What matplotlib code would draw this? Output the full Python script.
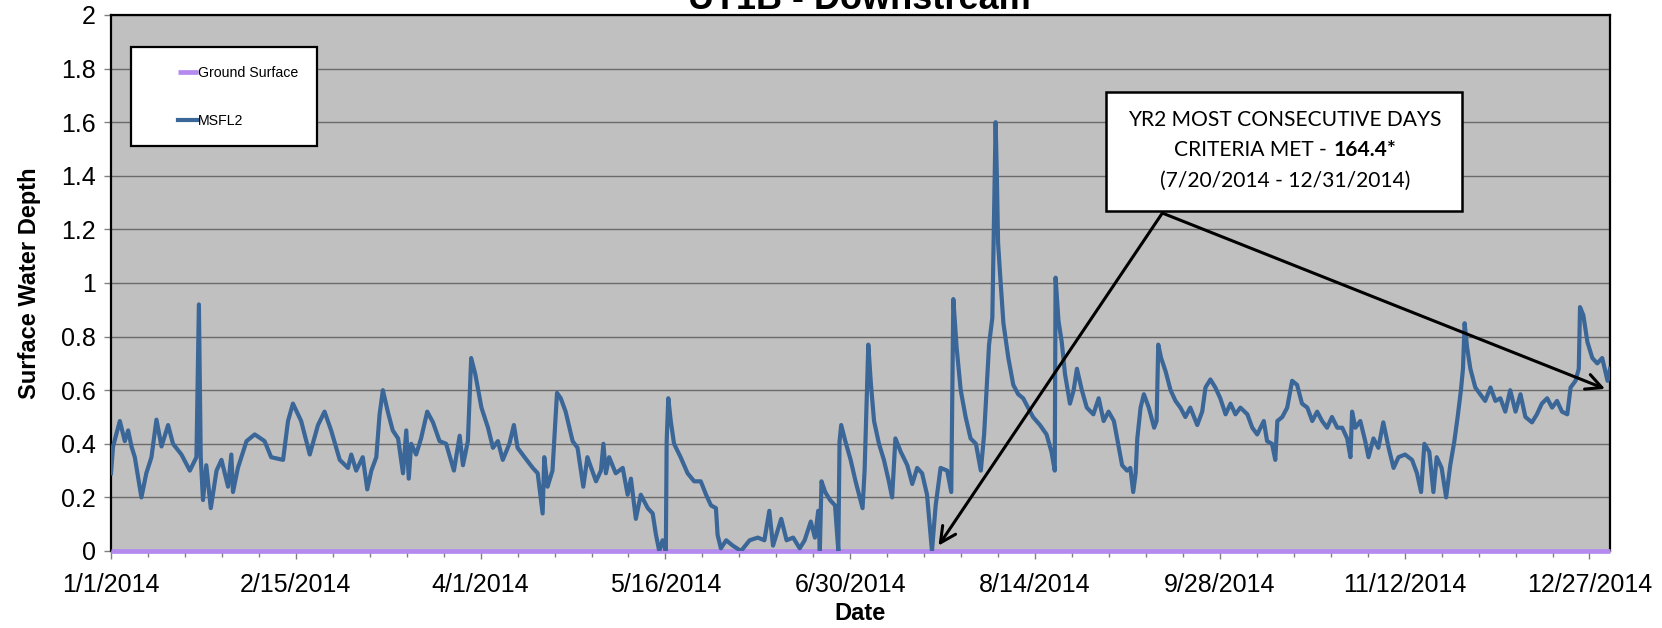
import numpy as np
import matplotlib
matplotlib.use("Agg")
import matplotlib.pyplot as plt
import matplotlib.dates as mdates
from matplotlib.patches import Rectangle
from matplotlib.legend_handler import HandlerLine2D
from matplotlib.offsetbox import TextArea, HPacker, VPacker, AnnotationBbox

plt.rcParams['font.family'] = 'Liberation Sans'

# MSFL2 surface water depth, day of year 2014 vs depth
msfl2_day = [
    0.0, 0.5, 2.15, 3.36, 4.18, 4.99, 5.8, 7.4, 8.6, 9.85, 11.07, 12.3, 13.9, 15.1,
    17.15, 19.2, 20.8, 21.4, 21.85, 22.4, 23.2, 24.3, 25.7, 26.9, 28.5, 29.3, 29.7,
    30.9, 33.0, 35.0, 37.4, 39.0, 41.9, 43.1, 44.3, 46.3, 48.4, 50.4, 52.0, 53.6,
    55.7, 57.7, 58.5, 59.7, 61.3, 62.4, 63.4, 64.6, 65.4, 66.2, 67.4, 68.6, 69.9,
    71.1, 71.9, 72.5, 73.1, 74.3, 75.5, 77.0, 78.4, 80.0, 81.6, 83.5, 84.9, 85.7,
    86.9, 87.7, 88.7, 90.2, 91.8, 93.0, 94.2, 95.4, 97.0, 98.1, 99.0, 100.7, 102.7,
    103.9, 105.1, 105.5, 106.3, 107.5, 108.6, 109.5, 110.7, 112.4, 113.6, 115.0,
    116.0, 118.1, 119.3, 119.9, 120.5, 121.3, 122.9, 124.6, 125.8, 126.6, 127.8,
    129.0, 130.7, 131.9, 132.7, 133.5, 134.3, 135.1, 135.3, 135.7, 136.3, 137.1,
    138.7, 140.4, 142.0, 143.6, 144.9, 146.1, 147.3, 147.7, 148.5, 149.8, 151.4,
    153.4, 155.5, 157.5, 159.1, 160.3, 161.2, 163.2, 164.5, 166.1, 167.7, 168.9,
    170.4, 171.4, 172.2, 172.6, 173.0, 173.9, 175.1, 176.3, 177.1, 177.4, 177.8,
    178.8, 180.1, 181.3, 183.0, 183.5, 184.4, 185.0, 185.8, 187.0, 188.2, 189.4,
    190.2, 191.0, 192.3, 193.9, 195.1, 196.3, 197.5, 198.7, 199.9, 200.8, 202.0,
    203.6, 204.6, 205.1, 205.9, 206.9, 208.1, 209.3, 210.6, 211.8, 212.6, 213.4,
    213.8, 214.6, 215.4, 215.7, 216.0, 216.5, 217.3, 218.5, 219.7, 220.9, 222.1,
    223.3, 224.5, 226.2, 227.8, 229.0, 229.8, 230.0, 230.7, 231.5, 232.3, 233.5,
    234.4, 235.2, 236.4, 237.6, 239.2, 240.5, 241.7, 242.9, 244.2, 245.4, 246.2,
    247.4, 248.2, 248.9, 249.5, 249.9, 250.7, 251.5, 252.7, 254.0, 254.6, 255.0,
    255.7, 256.8, 258.0, 259.2, 260.4, 261.6, 262.8, 264.5, 265.7, 266.5, 267.7,
    268.9, 270.1, 271.4, 272.6, 273.8, 275.0, 276.7, 277.9, 279.1, 280.7, 281.5,
    282.7, 283.5, 284.0, 285.2, 286.4, 287.6, 288.8, 290.0, 291.3, 292.5, 293.7,
    294.9, 296.1, 297.3, 298.6, 299.8, 301.0, 301.8, 302.2, 303.0, 304.2, 305.4,
    306.2, 307.4, 308.6, 309.8, 311.1, 312.3, 313.5, 315.1, 316.8, 318.0, 319.0,
    319.8, 321.0, 322.0, 322.8, 324.0, 325.1, 326.1, 327.1, 327.9, 328.7, 329.2,
    329.6, 330.2, 331.0, 332.2, 333.4, 334.6, 335.9, 337.1, 338.3, 339.5, 340.7,
    342.0, 343.2, 344.4, 346.0, 347.2, 348.4, 349.7, 350.9, 352.1, 353.3, 354.6,
    355.4, 356.6, 357.4, 357.7, 358.5, 359.5, 360.7, 361.9, 363.1, 364.4, 365.0,
]
msfl2_depth = [
    0.29, 0.39, 0.485, 0.41, 0.45, 0.39, 0.35, 0.20, 0.29, 0.35, 0.49, 0.39, 0.47, 0.40,
    0.36, 0.30, 0.35, 0.92, 0.35, 0.19, 0.32, 0.16, 0.30, 0.34, 0.24, 0.36, 0.22,
    0.31, 0.41, 0.435, 0.41, 0.35, 0.34, 0.485, 0.55, 0.485, 0.36, 0.47, 0.52, 0.45,
    0.34, 0.31, 0.36, 0.30, 0.35, 0.23, 0.30, 0.35, 0.51, 0.60, 0.52, 0.45, 0.42,
    0.29, 0.45, 0.27, 0.40, 0.36, 0.42, 0.52, 0.48, 0.41, 0.40, 0.30, 0.43, 0.32,
    0.41, 0.72, 0.66, 0.535, 0.46, 0.385, 0.41, 0.34, 0.40, 0.47, 0.385, 0.35, 0.31,
    0.29, 0.14, 0.35, 0.24, 0.30, 0.59, 0.57, 0.52, 0.41, 0.385, 0.24,
    0.35, 0.26, 0.30, 0.40, 0.29, 0.35, 0.29, 0.31, 0.21, 0.27, 0.12,
    0.21, 0.16, 0.14, 0.06, 0.0, 0.04, 0.0, 0.41, 0.57, 0.485, 0.40,
    0.35, 0.29, 0.26, 0.26, 0.21, 0.17, 0.16, 0.06, 0.01, 0.04, 0.02,
    0.0, 0.04, 0.05, 0.04, 0.15, 0.02, 0.12, 0.04, 0.05, 0.01, 0.04,
    0.11, 0.05, 0.15, 0.0, 0.26, 0.22, 0.19, 0.17, 0.0, 0.41, 0.47,
    0.41, 0.34, 0.26, 0.16, 0.30, 0.77, 0.63, 0.485, 0.40, 0.34, 0.26,
    0.20, 0.42, 0.37, 0.32, 0.25, 0.31, 0.29, 0.21, 0.0, 0.17, 0.31,
    0.30, 0.22, 0.94, 0.76, 0.60, 0.50, 0.42, 0.40, 0.30, 0.435, 0.66,
    0.77, 0.87, 1.60, 1.40, 1.15, 1.03, 0.85, 0.72, 0.62, 0.585, 0.57,
    0.535, 0.50, 0.47, 0.435, 0.37, 0.30, 1.02, 0.86, 0.78, 0.66, 0.55,
    0.60, 0.68, 0.60, 0.535, 0.51, 0.57, 0.485, 0.52, 0.485, 0.385, 0.32,
    0.30, 0.31, 0.22, 0.29, 0.42, 0.535, 0.585, 0.535, 0.46, 0.485, 0.77,
    0.72, 0.67, 0.60, 0.56, 0.535, 0.50, 0.535, 0.47, 0.52, 0.61, 0.64,
    0.61, 0.57, 0.51, 0.55, 0.51, 0.535, 0.51, 0.46, 0.435, 0.485, 0.41,
    0.40, 0.34, 0.485, 0.50, 0.535, 0.635, 0.62, 0.55, 0.535, 0.485, 0.52,
    0.485, 0.46, 0.50, 0.46, 0.46, 0.42, 0.35, 0.52, 0.46, 0.485, 0.41,
    0.35, 0.42, 0.385, 0.48, 0.385, 0.31, 0.35, 0.36, 0.34, 0.29, 0.22,
    0.40, 0.37, 0.22, 0.35, 0.31, 0.20, 0.32, 0.41, 0.50, 0.60, 0.68,
    0.85, 0.76, 0.68, 0.61, 0.585, 0.56, 0.61, 0.56, 0.57, 0.52, 0.60,
    0.52, 0.585, 0.50, 0.48, 0.51, 0.55, 0.57, 0.535, 0.56, 0.52, 0.51,
    0.61, 0.635, 0.68, 0.91, 0.88, 0.78, 0.72, 0.70, 0.72, 0.635, 0.68,
]

ground_day = [0.0, 365.0]
ground_depth = [0.0, 0.0]

tick_labels_y = ['0', '0.2', '0.4', '0.6', '0.8', '1', '1.2', '1.4', '1.6', '1.8', '2']

start = np.datetime64('2014-01-01T00:00')


def to_dates(days):
    return start + (np.asarray(days) * 86400).astype('timedelta64[s]')


def day_num(day):
    return mdates.date2num(to_dates(day))


fig = plt.figure(figsize=(16.62, 6.28), dpi=100)
ax = fig.add_axes([111 / 1662, 77 / 628, 1499 / 1662, 536 / 628])
ax.set_facecolor('#C0C0C0')

gs_line, = ax.plot(to_dates(ground_day), ground_depth, color='#B48AEE', lw=3.4,
                   label='Ground Surface', zorder=3, clip_on=False,
                   solid_capstyle='butt')
ms_line, = ax.plot(to_dates(msfl2_day), msfl2_depth, color='#3B6698', lw=3.0,
                   label='MSFL2', zorder=4)

ax.set_xlim(start, np.datetime64('2015-01-01T00:00'))
ax.set_ylim(0, 2)

# y axis
ax.set_yticks(np.arange(0, 2.01, 0.2))
ax.set_yticklabels(tick_labels_y)
ax.yaxis.grid(True, color='#6A6A6A', lw=1.0)
ax.set_axisbelow(True)

# x axis: labels every 45 days, minor ticks every 9 days
major = start + np.arange(0, 361, 45).astype('timedelta64[D]')
minor = start + np.arange(0, 366, 9).astype('timedelta64[D]')
ax.set_xticks(major)
ax.set_xticks(minor, minor=True)


def date_fmt(x, pos=None):
    d = mdates.num2date(x)
    return f"{d.month}/{d.day}/{d.year}"


ax.xaxis.set_major_formatter(plt.FuncFormatter(date_fmt))
ax.tick_params(axis='x', which='major', length=6, width=1, color='#808080',
               labelsize=18, pad=10)
ax.tick_params(axis='x', which='minor', length=4, width=1, color='#808080')
ax.tick_params(axis='y', length=5, width=1, color='#808080', labelsize=18, pad=6)

for side in ['left', 'right', 'top']:
    ax.spines[side].set_color('black')
    ax.spines[side].set_linewidth(1.6)
ax.spines['bottom'].set_color('#808080')
ax.spines['bottom'].set_linewidth(1)

fig.text(859 / 1662, 1 - 9 / 628, 'UT1B - Downstream', ha='center', va='baseline',
         fontsize=26, fontweight='bold')
fig.text(30 / 1662, 0.5 + (77 - 15) / 628 / 2, 'Surface Water Depth',
         rotation=90, ha='center', va='center', fontsize=17, fontweight='bold')
fig.text(860 / 1662, 1 - 613 / 628, 'Date', ha='center', va='center',
         fontsize=17, fontweight='bold')

# legend: short line samples set in from the left edge
line_handler = HandlerLine2D(xpad=2.0)
leg = ax.legend(handles=[gs_line, ms_line], loc='upper left',
                bbox_to_anchor=(0.0133, 0.94), borderaxespad=0, fontsize=10.2,
                frameon=True, fancybox=False, edgecolor='black', framealpha=1,
                labelspacing=2.4, handlelength=3.4, handletextpad=0.05,
                borderpad=1.3,
                handler_map={gs_line: line_handler, ms_line: line_handler})
leg.get_frame().set_linewidth(1.6)

# callout box with arrows
box_x0 = day_num(242.2)
box_x1 = day_num(329.0)
ax.add_patch(Rectangle((box_x0, 1.269), box_x1 - box_x0, 0.444, facecolor='white',
                       edgecolor='black', lw=1.8, zorder=6))

cal = dict(family='Lato', size=15.1)
line1 = TextArea('YR2 MOST CONSECUTIVE DAYS', textprops=cal)
line2 = HPacker(children=[TextArea('CRITERIA MET -', textprops=cal),
                          TextArea('164.4*', textprops=dict(cal, weight='bold'))],
                align='baseline', pad=0, sep=5)
line3 = TextArea('(7/20/2014 - 12/31/2014)', textprops=cal)
block = VPacker(children=[line1, line2, line3], align='center', pad=0, sep=7.5)
ab = AnnotationBbox(block, (day_num(285.9), 1.495), frameon=False,
                    box_alignment=(0.5, 0.5), zorder=7)
ax.add_artist(ab)

arrow_start = (day_num(256.0), 1.261)
for tip_day, tip_depth in [(201.5, 0.02), (363.8, 0.605)]:
    ax.annotate('', xy=(day_num(tip_day), tip_depth), xytext=arrow_start,
                arrowprops=dict(arrowstyle='->', lw=2.2, color='black',
                                mutation_scale=28, shrinkA=0, shrinkB=0),
                zorder=8)

fig.savefig('out.png', dpi=100, facecolor='white')
